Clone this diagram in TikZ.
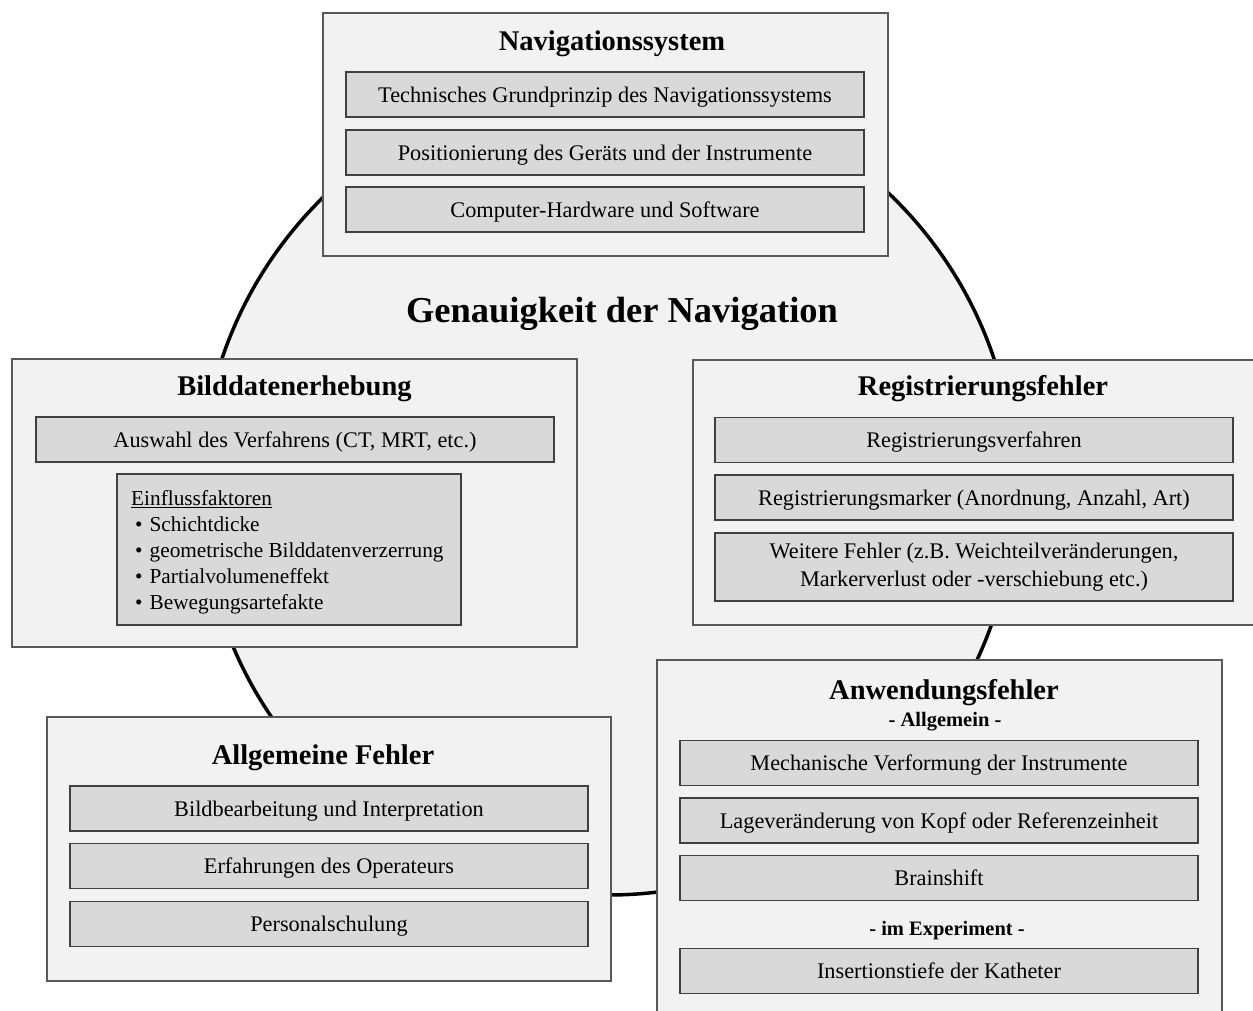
\documentclass[tikz,border=0pt]{standalone}
\usepackage{fontspec}
\setmainfont{Liberation Serif}
\usepackage{tikz}

\tikzset{
  ring/.style={draw=black,line width=3.5pt,fill=black!5},
  outerbox/.style={draw=black!65,line width=1.3pt,fill=black!5,minimum width=565pt,inner sep=0pt},
  innerbox/.style={draw=black!75,line width=1.2pt,fill=black!15,minimum width=518pt,minimum height=45pt,inner sep=0pt,align=center,
    text height=15pt,text depth=0pt,font=\fontsize{22.3}{28}\selectfont},
  boxtitle/.style={font=\fontsize{28.5}{30}\selectfont\bfseries,inner sep=0pt,text height=19pt,text depth=0pt},
  subtitle/.style={font=\fontsize{20.5}{22}\selectfont\bfseries,inner sep=0pt,text height=14pt,text depth=0pt},
}

\begin{document}
\begin{tikzpicture}[x=1pt,y=-1pt]
\useasboundingbox[fill=white] (0,0) rectangle (1253,1010);

% circle in the back
\draw[ring] (608,488) circle (407pt);
\draw (622,310) node[font=\fontsize{36.5}{38}\selectfont\bfseries,text height=25pt,text depth=0pt] (genau) {Genauigkeit der Navigation};

% Navigationssystem
\draw (605.5,134.5) node[outerbox,minimum height=243pt] (nav) {};
\draw (612,41) node[boxtitle] (navT) {Navigationssystem};
\draw (605,94.5) node[innerbox] (navA) {Technisches Grundprinzip des Navigationssystems};
\draw (605,152.5) node[innerbox] (navB) {Positionierung des Geräts und der Instrumente};
\draw (605,209.5) node[innerbox] (navC) {Computer-Hardware und Software};

% Bilddatenerhebung
\draw (294.5,503) node[outerbox,minimum height=288pt] (bild) {};
\draw (294.5,386) node[boxtitle] (bildT) {Bilddatenerhebung};
\draw (295,439.5) node[innerbox] (bildA) {Auswahl des Verfahrens (CT, MRT, etc.)};
\draw (289,549.5) node[innerbox,minimum width=344pt,minimum height=151pt] (bildB) {};
\draw (131,552.5) node[anchor=west,inner sep=0pt,align=left,font=\fontsize{21.3}{26}\selectfont] (bildL) {\underline{Einflussfaktoren}\\
  \hspace*{4pt}\textbullet\hspace{7pt}Schichtdicke\\
  \hspace*{4pt}\textbullet\hspace{7pt}geometrische Bilddatenverzerrung\\
  \hspace*{4pt}\textbullet\hspace{7pt}Partialvolumeneffekt\\
  \hspace*{4pt}\textbullet\hspace{7pt}Bewegungsartefakte};

% Registrierungsfehler
\draw (975.5,492.5) node[outerbox,minimum height=265pt] (reg) {};
\draw (983,386) node[boxtitle] (regT) {Registrierungsfehler};
\draw (974,440) node[innerbox] (regA) {Registrierungsverfahren};
\draw (974,497.5) node[innerbox] (regB) {Registrierungsmarker (Anordnung, Anzahl, Art)};
\draw (974,567) node[innerbox,minimum height=68pt,text height={},text depth={}] (regC) {Weitere Fehler (z.B. Weichteilveränderungen,\\ Markerverlust oder -verschiebung etc.)};

% Allgemeine Fehler
\draw (329,849) node[outerbox,minimum width=564pt,minimum height=264pt] (allg) {};
\draw (323,755) node[boxtitle] (allgT) {Allgemeine Fehler};
\draw (329,808.5) node[innerbox] (allgA) {Bildbearbeitung und Interpretation};
\draw (329,866) node[innerbox] (allgB) {Erfahrungen des Operateurs};
\draw (329,924) node[innerbox] (allgC) {Personalschulung};

% Anwendungsfehler
\draw (939.5,840) node[outerbox,minimum height=360pt] (anw) {};
\draw (944,690) node[boxtitle] (anwT) {Anwendungsfehler};
\draw (945,719) node[subtitle] (anwS) {- Allgemein -};
\draw (939,763) node[innerbox] (anwA) {Mechanische Verformung der Instrumente};
\draw (939,820.5) node[innerbox] (anwB) {Lageveränderung von Kopf oder Referenzeinheit};
\draw (939,878) node[innerbox] (anwC) {Brainshift};
\draw (947,928) node[subtitle] (anwE) {- im Experiment -};
\draw (939,971) node[innerbox] (anwD) {Insertionstiefe der Katheter};
\end{tikzpicture}
\end{document}
